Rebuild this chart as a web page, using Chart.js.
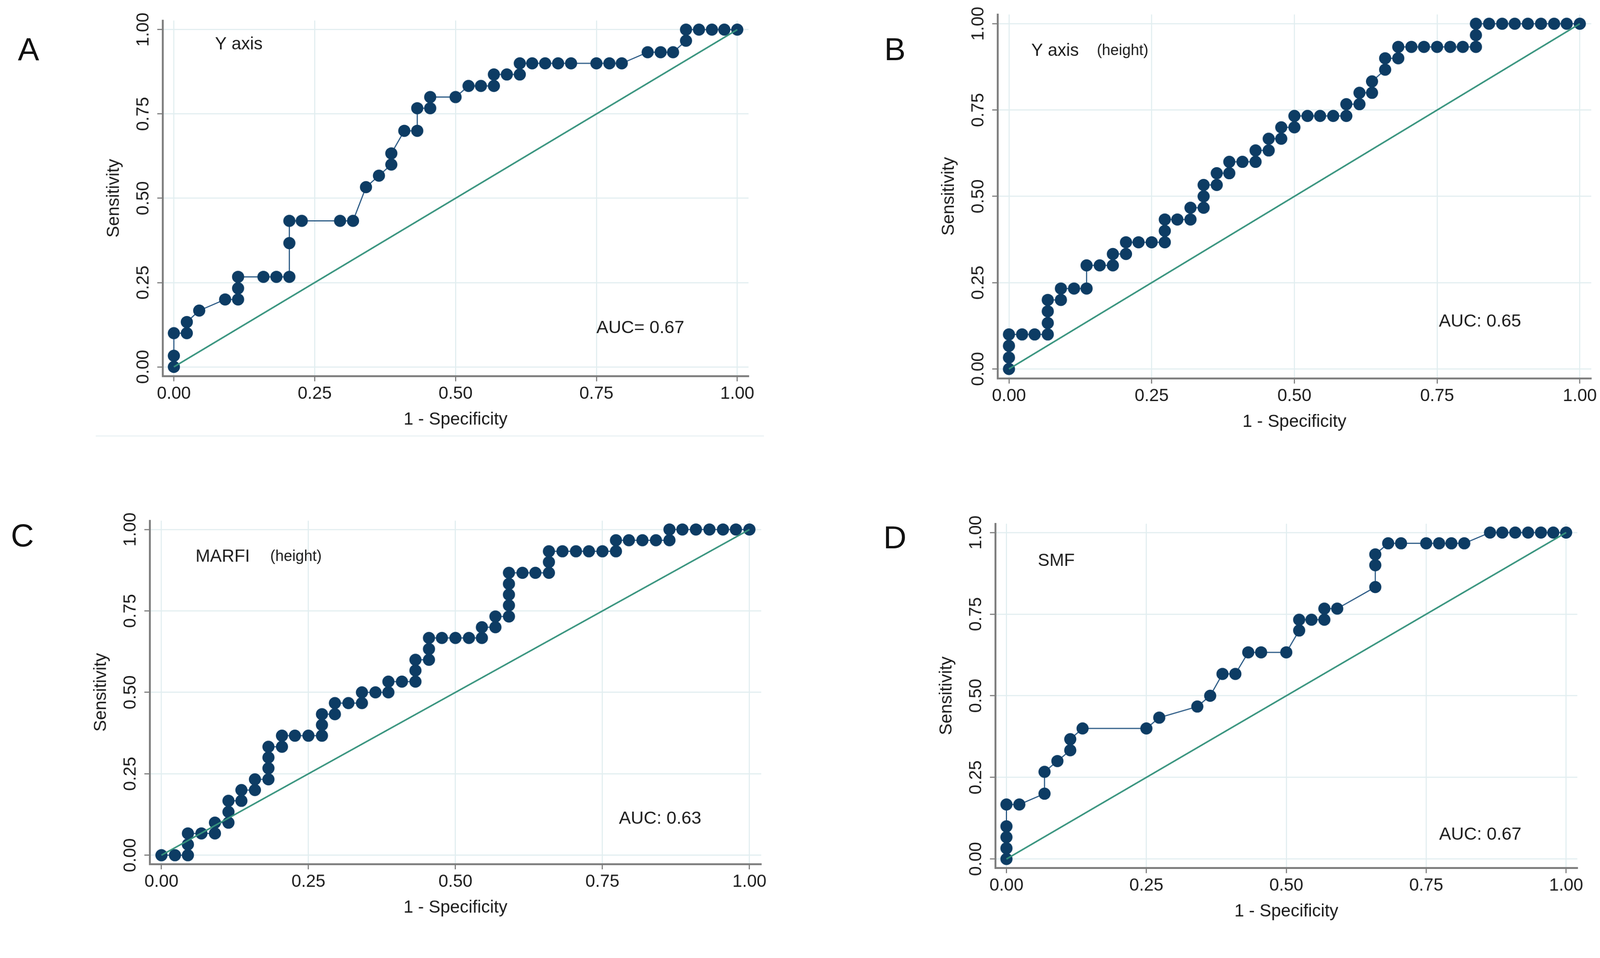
<!DOCTYPE html>
<html>
<head>
<meta charset="utf-8">
<script src="https://cdn.jsdelivr.net/npm/chart.js@4.4.1/dist/chart.umd.min.js"></script>
<style>
  html, body { margin: 0; padding: 0; background: #fff; overflow: hidden; }
  #page { width: 4212px; height: 2453px; position: absolute; left: 0; top: 0; transform-origin: 0 0; font-family: "Liberation Sans", Arial, sans-serif; }
  .panel { position: absolute; }
  .letter { position: absolute; font-size: 84px; color: #111; line-height: 1; transform: translate(-50%, -50%); }
  .edge { position: absolute; height: 4px; background: #eef4f6; }
</style>
</head>
<body>
<div id="page">
<div class="edge" style="left:252px;top:1146px;width:1759px"></div>
<div class="letter" style="left:75px;top:129px">A</div>
<div class="letter" style="left:2356px;top:129px">B</div>
<div class="letter" style="left:59px;top:1410px">C</div>
<div class="letter" style="left:2356px;top:1415px">D</div>

<div class="panel" style="left:228px;top:34px"><canvas id="chartA" width="1764" height="1121"></canvas></div>
<div class="panel" style="left:2426px;top:18px"><canvas id="chartB" width="1784" height="1143"></canvas></div>
<div class="panel" style="left:194px;top:1351px"><canvas id="chartC" width="1830" height="1089"></canvas></div>
<div class="panel" style="left:2420px;top:1359px"><canvas id="chartD" width="1754" height="1091"></canvas></div>
</div>

<script>
// tick values shared by both axes
const tickVals = [0, 0.25, 0.5, 0.75, 1];
const refX = [0, 1];
const refY = [0, 1];

// A - Y axis
const fprA = [0,0,0,.023,.023,.045,.091,.114,.114,.114,.159,.182,.205,.205,.205,.227,.295,.318,.341,.364,.386,.386,.409,.432,.432,.455,.455,.5,.523,.545,.568,.568,.591,.614,.614,.636,.659,.682,.705,.75,.773,.795,.841,.864,.886,.909,.909,.932,.955,.977,1];
const sensA = [0,.033,.1,.1,.133,.167,.2,.2,.233,.267,.267,.267,.267,.367,.433,.433,.433,.433,.533,.567,.6,.633,.7,.7,.767,.767,.8,.8,.833,.833,.833,.867,.867,.867,.9,.9,.9,.9,.9,.9,.9,.9,.933,.933,.933,.967,1,1,1,1,1];

// B - Y axis (height)
const fprB = [0,0,0,0,.023,.045,.068,.068,.068,.068,.091,.091,.114,.136,.136,.159,.182,.182,.205,.205,.227,.25,.273,.273,.273,.295,.318,.318,.341,.341,.341,.364,.364,.386,.386,.409,.432,.432,.455,.455,.477,.477,.5,.5,.523,.545,.568,.591,.591,.614,.614,.636,.636,.659,.659,.682,.682,.705,.727,.75,.773,.795,.818,.818,.818,.841,.864,.886,.909,.932,.955,.977,1];
const sensB = [0,.033,.067,.1,.1,.1,.1,.133,.167,.2,.2,.233,.233,.233,.3,.3,.3,.333,.333,.367,.367,.367,.367,.4,.433,.433,.433,.467,.467,.5,.533,.533,.567,.567,.6,.6,.6,.633,.633,.667,.667,.7,.7,.733,.733,.733,.733,.733,.767,.767,.8,.8,.833,.867,.9,.9,.933,.933,.933,.933,.933,.933,.933,.967,1,1,1,1,1,1,1,1,1];

// C - MARFI (height)
const fprC = [0,.023,.045,.045,.045,.068,.091,.091,.114,.114,.114,.136,.136,.159,.159,.182,.182,.182,.182,.205,.205,.227,.25,.273,.273,.273,.295,.295,.318,.341,.341,.364,.386,.386,.409,.432,.432,.432,.455,.455,.455,.477,.5,.523,.545,.545,.568,.568,.591,.591,.591,.591,.591,.614,.636,.659,.659,.659,.682,.705,.727,.75,.773,.773,.795,.818,.841,.864,.864,.886,.909,.932,.955,.977,1];
const sensC = [0,0,0,.033,.067,.067,.067,.1,.1,.133,.167,.167,.2,.2,.233,.233,.267,.3,.333,.333,.367,.367,.367,.367,.4,.433,.433,.467,.467,.467,.5,.5,.5,.533,.533,.533,.567,.6,.6,.633,.667,.667,.667,.667,.667,.7,.7,.733,.733,.767,.8,.833,.867,.867,.867,.867,.9,.933,.933,.933,.933,.933,.933,.967,.967,.967,.967,.967,1,1,1,1,1,1,1];

// D - SMF
const fprD = [0,0,0,0,0,.023,.068,.068,.091,.114,.114,.136,.25,.273,.341,.364,.386,.409,.432,.455,.5,.523,.523,.545,.568,.568,.591,.659,.659,.659,.682,.705,.75,.773,.795,.818,.864,.886,.909,.932,.955,.977,1];
const sensD = [0,.033,.067,.1,.167,.167,.2,.267,.3,.333,.367,.4,.4,.433,.467,.5,.567,.567,.633,.633,.633,.7,.733,.733,.733,.767,.767,.833,.9,.933,.967,.967,.967,.967,.967,.967,1,1,1,1,1,1,1];

const labelsA = ['Y axis'];
const labelsB = ['Y axis', '(height)'];
const labelsC = ['MARFI', '(height)'];
const labelsD = ['SMF'];
const aucA = 'AUC= 0.67';
const aucB = 'AUC: 0.65';
const aucC = 'AUC: 0.63';
const aucD = 'AUC: 0.67';

const NAVY = '#0d3c64';
const NAVY_LINE = '#285884';
const TEAL = '#36937d';
const GRID = '#e2eef0';
const AXIS = '#7d7d7d';
const FONT = '"Liberation Sans", Arial, sans-serif';

// the page is laid out at 4212x2453; fit it to whatever viewport we get
const page = document.getElementById('page');
const fit = Math.min(window.innerWidth / 4212, window.innerHeight / 2453);
page.style.transform = 'scale(' + fit + ')';

// plugin: writes the in-plot notes (variable name, AUC) at data positions
const notesPlugin = {
  id: 'notes',
  afterDatasetsDraw(chart, args, opts) {
    const ctx = chart.ctx;
    const sx = chart.scales.x, sy = chart.scales.y;
    ctx.save();
    ctx.fillStyle = '#1a1a1a';
    ctx.textBaseline = 'middle';
    ctx.textAlign = 'left';
    opts.items.forEach(it => {
      ctx.font = it.size + 'px ' + FONT;
      ctx.fillText(it.text, sx.getPixelForValue(it.x), sy.getPixelForValue(it.y));
    });
    ctx.restore();
  }
};

function axisOpts(min, max, title, isY) {
  const o = {
    type: 'linear',
    min: min,
    max: max,
    afterBuildTicks: s => { s.ticks = tickVals.map(v => ({ value: v })); },
    grid: { color: GRID, lineWidth: 3, tickColor: AXIS, tickLength: 14, tickWidth: 3 },
    border: { display: true, color: AXIS, width: 5 },
    ticks: {
      color: '#1a1a1a',
      font: { size: 46, family: FONT },
      callback: v => Number(v).toFixed(2)
    },
    title: {
      display: true,
      text: title,
      color: '#1a1a1a',
      font: { size: 46, family: FONT }
    }
  };
  if (isY) {
    o.ticks.minRotation = 90;
    o.ticks.maxRotation = 90;
    o.ticks.crossAlign = 'center';
    o.ticks.padding = -9;
    o.title.padding = { top: 45, bottom: 0 };
    o.afterFit = s => { s.width = 200; };
  } else {
    o.ticks.padding = 6;
    o.ticks.maxRotation = 0;
    o.title.padding = { top: 0, bottom: 22 };
    o.afterFit = s => { s.height = 165; };
  }
  return o;
}

function makeChart(id, fpr, sens, names, auc, notePos) {
  const items = [];
  names.forEach((n, i) => items.push({ text: n, x: notePos.name[i][0], y: notePos.name[i][1], size: notePos.name[i][2] }));
  items.push({ text: auc, x: notePos.auc[0], y: notePos.auc[1], size: 47 });

  new Chart(document.getElementById(id), {
    type: 'scatter',
    data: {
      datasets: [
        {
          data: fpr.map((x, i) => ({ x: x, y: sens[i] })),
          showLine: true,
          borderColor: NAVY_LINE,
          borderWidth: 3,
          pointRadius: 16,
          pointBackgroundColor: NAVY,
          pointBorderWidth: 0,
          order: 2
        },
        {
          data: refX.map((x, i) => ({ x: x, y: refY[i] })),
          showLine: true,
          borderColor: TEAL,
          borderWidth: 4,
          pointRadius: 0,
          order: 1
        }
      ]
    },
    options: {
      responsive: false,
      animation: false,
      layout: { padding: { top: 20, right: 20, left: 0, bottom: 0 } },
      plugins: {
        legend: { display: false },
        tooltip: { enabled: false },
        notes: { items: items }
      },
      scales: {
        x: axisOpts(-0.02, 1.02, '1 - Specificity', false),
        y: axisOpts(-0.027, 1.027, 'Sensitivity', true)
      }
    },
    plugins: [notesPlugin]
  });
}

makeChart('chartA', fprA, sensA, labelsA, aucA, { name: [[0.073, 0.956, 46]], auc: [0.75, 0.115] });
makeChart('chartB', fprB, sensB, labelsB, aucB, { name: [[0.039, 0.921, 46], [0.154, 0.921, 40]], auc: [0.753, 0.137] });
makeChart('chartC', fprC, sensC, labelsC, aucC, { name: [[0.058, 0.916, 46], [0.185, 0.916, 40]], auc: [0.778, 0.112] });
makeChart('chartD', fprD, sensD, labelsD, aucD, { name: [[0.056, 0.913, 46]], auc: [0.773, 0.074] });
</script>
</body>
</html>
